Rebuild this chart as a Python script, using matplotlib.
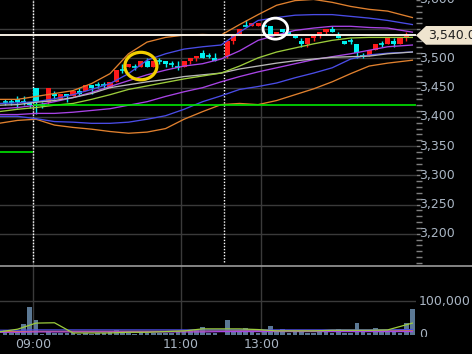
import numpy as np
import matplotlib
matplotlib.use("Agg")
import matplotlib.pyplot as plt
from matplotlib.patches import Ellipse, Polygon
from matplotlib.lines import Line2D
from matplotlib import transforms

nan = np.nan
# ---------------- data ----------------
slots = list(range(-5, 62))   # 5-min slots, 0 = 09:00
opens = [3425, 3425, 3430, 3425, 3425,
         3450, 3420, 3425, 3440, 3430, 3440, 3435, 3445, 3445, 3455,
         3455, 3455, 3450, 3460, 3480, 3485, 3485, 3485, 3495, 3485,
         3495, 3495, 3490, 3485, 3485, 3495, 3500, 3510, 3505, 3500,
         nan, 3505, 3530, 3540, 3555, 3555, 3555, 3555, 3555, 3540,
         3550, 3545, 3540, 3530, 3525, 3535, 3540, 3545, 3550, 3540,
         3530, 3530, 3525, 3505, 3505, 3515, 3525, 3525, 3530, 3525,
         3535, 3540]
highs = [3430, 3430, 3435, 3435, 3425,
         3450, 3425, 3450, 3445, 3440, 3440, 3445, 3450, 3455, 3455,
         3460, 3460, 3460, 3480, 3490, 3490, 3490, 3495, 3500, 3495,
         3500, 3495, 3495, 3495, 3495, 3500, 3505, 3515, 3510, 3510,
         nan, 3530, 3540, 3550, 3565, 3560, 3560, 3560, 3555, 3545,
         3550, 3545, 3540, 3535, 3535, 3540, 3545, 3550, 3555, 3545,
         3530, 3535, 3525, 3510, 3515, 3525, 3530, 3535, 3535, 3535,
         3545, 3540]
lows = [3420, 3420, 3415, 3420, 3415,
        3405, 3415, 3420, 3430, 3430, 3425, 3435, 3435, 3445, 3440,
        3450, 3450, 3450, 3460, 3475, 3485, 3480, 3485, 3485, 3485,
        3490, 3485, 3485, 3480, 3485, 3490, 3495, 3500, 3500, 3495,
        nan, 3500, 3525, 3540, 3555, 3555, 3555, 3555, 3540, 3540,
        3540, 3540, 3535, 3520, 3520, 3530, 3535, 3540, 3545, 3535,
        3525, 3525, 3500, 3500, 3505, 3515, 3520, 3525, 3520, 3525,
        3530, 3540]
closes = [3425, 3425, 3425, 3425, 3420,
          3425, 3420, 3450, 3435, 3440, 3435, 3445, 3440, 3455, 3450,
          3455, 3455, 3460, 3480, 3480, 3490, 3485, 3495, 3485, 3495,
          3495, 3490, 3490, 3485, 3495, 3500, 3505, 3500, 3505, 3495,
          nan, 3530, 3540, 3550, 3555, 3560, 3560, 3555, 3540, 3545,
          3545, 3540, 3535, 3525, 3535, 3540, 3545, 3550, 3545, 3535,
          3525, 3530, 3510, 3505, 3515, 3525, 3525, 3535, 3525, 3535,
          3540, 3540]
volumes_k = [15, 6, 8, 33, 82,
             45, 3, 9, 6, 5, 5, 6, 4, 5, 4,
             5, 6, 8, 15, 6, 5, 4, 8, 6, 5,
             7, 6, 5, 8, 12, 12, 15, 24, 6, 7,
             0, 45, 10, 8, 21, 8, 6, 10, 27, 8,
             18, 6, 8, 15, 5, 6, 9, 8, 6, 18,
             5, 6, 36, 8, 6, 22, 8, 10, 12, 6,
             36, 76]

# indicator lines read at these slot positions
band_x = [-6, -3, 0, 3, 6, 9, 12, 15, 18, 21, 24, 27, 30, 33, 36, 39, 42, 45, 48, 51, 54, 57, 61]
upper3 = [3430, 3430, 3435, 3440, 3445, 3457, 3474, 3508, 3528, 3536, 3540, 3541, 3540, 3558, 3575, 3591, 3599, 3601, 3596, 3589, 3584, 3581, 3570]
lower3 = [3389, 3394, 3396, 3386, 3382, 3379, 3375, 3372, 3374, 3380, 3396, 3409, 3421, 3423, 3421, 3428, 3438, 3448, 3460, 3474, 3487, 3492, 3497]
upper2 = [3423, 3424, 3426, 3431, 3438, 3447, 3457, 3474, 3497, 3508, 3516, 3520, 3523, 3545, 3565, 3570, 3574, 3575, 3575, 3572, 3569, 3565, 3558]
lower2 = [3401, 3401, 3397, 3392, 3391, 3389, 3389, 3391, 3396, 3402, 3413, 3426, 3436, 3447, 3452, 3458, 3467, 3475, 3484, 3499, 3506, 3509, 3511]
upper1 = [3414, 3416, 3420, 3426, 3433, 3442, 3452, 3462, 3472, 3480, 3487, 3491, 3499, 3513, 3531, 3540, 3548, 3552, 3555, 3555, 3553, 3552, 3545]
lower1 = [3404, 3404, 3406, 3406, 3408, 3411, 3414, 3420, 3426, 3435, 3443, 3450, 3460, 3469, 3477, 3484, 3491, 3498, 3503, 3508, 3514, 3520, 3523]
ma_green = [3409, 3413, 3416, 3420, 3423, 3430, 3438, 3447, 3453, 3459, 3465, 3470, 3475, 3487, 3501, 3511, 3518, 3525, 3531, 3535, 3536, 3536, 3536]
ma_gray = [3420, 3421, 3425, 3428, 3433, 3440, 3450, 3455, 3460, 3464, 3469, 3472, 3475, 3482, 3487, 3492, 3496, 3499, 3502, 3503, 3504, 3508, 3511]

vol_ma_green = [9, 17, 35, 36, 6, 6, 6, 8, 8, 10, 12, 18, 18, 18, 16, 12, 12, 12, 14, 14, 14, 15, 35]
vol_ma_orange = [10, 10, 11, 11, 11, 11, 11, 11, 11, 11, 12, 12, 12, 13, 13, 13, 13, 13, 13, 13, 13, 13, 14]
vol_ma_blue = [14, 14, 15, 15, 15, 15, 15, 15, 15, 15, 15, 15, 15, 15, 15, 15, 15, 15, 15, 15, 15, 15, 16]
vol_ma_purple = [8, 8, 9, 9, 9, 9, 9, 9, 9, 9, 9, 9, 10, 10, 10, 10, 10, 10, 10, 10, 10, 10, 10]

prev_close = 3420
prev_prev_close = 3340
last_price = 3540
price_ticks = list(range(3200, 3601, 50))
time_labels = ["09:00", "11:00", "13:00"]
time_label_slots = [0, 24, 37]
session_starts = [0, 31]

# ---------------- figure ----------------
W, H = 472, 354
fig = plt.figure(figsize=(W / 100, H / 100), dpi=100, facecolor="black")
ax = fig.add_axes([0, (H - 266) / H, 416 / W, 266 / H])
axv = fig.add_axes([0, (H - 335) / H, 416 / W, 69 / H])
for a in (ax, axv):
    a.set_facecolor("black")
    for s in a.spines.values():
        s.set_visible(False)
    a.set_xlim(-5.83, 61.59)
    a.tick_params(axis="x", bottom=False, labelbottom=False)

ax.set_ylim(3144.9, 3595.8)
axv.set_ylim(0, 203000)

grid_c = "#3a3a3a"
lab_c = "#aab6c4"
ax.hlines(price_ticks[:-1], -10, 70, colors=grid_c, lw=1, zorder=0.5)
for t in time_label_slots:
    ax.axvline(t - 0.5, color=grid_c, lw=1, zorder=0.5)
    axv.axvline(t - 0.5, color=grid_c, lw=1, zorder=0.5)
axv.axhline(100000, color=grid_c, lw=1, zorder=0.5)

# session dotted lines
for s in session_starts:
    ax.axvline(s - 0.5, ymin=4 / 266, ymax=1, color="white", lw=1,
               linestyle=(0, (1, 1.2)), zorder=1)

# candles
up_c, dn_c = "#ff1a1a", "#00f0f0"
for x, o, h, l, c in zip(slots, opens, highs, lows, closes):
    if np.isnan(o):
        continue
    col = up_c if c > o else dn_c
    ax.vlines(x, l, h, colors=col, lw=1, zorder=2)
    if c == o:
        ax.hlines(c, x - 0.42, x + 0.42, colors=col, lw=1.2, zorder=2)
    else:
        ax.bar(x, abs(c - o), bottom=min(o, c), width=0.82, color=col,
               linewidth=0, zorder=2)

# indicator lines
lw = 0.95
ax.plot(band_x, upper3, color="#e0802e", lw=lw, zorder=3)
ax.plot(band_x, lower3, color="#e0802e", lw=lw, zorder=3)
ax.plot(band_x, upper2, color="#4a4ce6", lw=lw, zorder=3)
ax.plot(band_x, lower2, color="#4a4ce6", lw=lw, zorder=3)
ax.plot(band_x, upper1, color="#a844e6", lw=lw, zorder=3)
ax.plot(band_x, lower1, color="#a844e6", lw=lw, zorder=3)
ax.plot(band_x, ma_gray, color="#b8b8b8", lw=lw, zorder=3)
ax.plot(band_x, ma_green, color="#9ccc3c", lw=lw, zorder=3)

# reference lines
ax.hlines(prev_close, -0.5, 70, colors="#00e600", lw=1.2, zorder=3)
ax.hlines(prev_prev_close, -10, -0.5, colors="#00e600", lw=1.2, zorder=3)
ax.axhline(last_price, color="#f4efe4", lw=1.4, zorder=4)

# hand-drawn style marks
ax.add_patch(Ellipse((17.0, 3487), 5.2, 47, fill=False, edgecolor="#f2cf00",
                     lw=2.3, zorder=5))
ax.add_patch(Ellipse((38.8, 3551), 4.0, 36, fill=False, edgecolor="white",
                     lw=2.0, zorder=5))

# right axis ticks
ax.yaxis.tick_right()
ax.set_yticks(price_ticks)
ax.set_yticks(list(range(3150, 3600, 10)), minor=True)
ax.tick_params(axis="y", which="major", length=3, width=1, color="#808080",
               labelright=False, labelleft=False, direction="out")
ax.tick_params(axis="y", which="minor", length=4.5, width=1, color="#808080",
               direction="out")
axv.set_yticks([])

ytr = transforms.blended_transform_factory(ax.transAxes, ax.transData)
for p in price_ticks:
    if p == 3550:
        continue
    ax.text(1 + 3 / 416, p, f"{p:,}", transform=ytr, ha="left", va="center",
            fontsize=9, color=lab_c, clip_on=False)

# price tag
tag = Polygon([(1.0, last_price - 0.5), (1 + 10 / 416, last_price + 15.5),
               (1 + 70 / 416, last_price + 15.5), (1 + 70 / 416, last_price - 16.5),
               (1 + 10 / 416, last_price - 16.5)],
              closed=True, transform=ytr, facecolor="#efe4cf", edgecolor="none",
              clip_on=False, zorder=10)
ax.add_patch(tag)
ax.text(1 + 12 / 416, last_price - 1, f"{last_price:,}.0", transform=ytr,
        ha="left", va="center", fontsize=9, color="#202020", clip_on=False,
        zorder=11)

# volume panel
vols = [v * 1000 for v in volumes_k]
axv.bar(slots, vols, width=0.75, color="#5b7894", linewidth=0, zorder=2)
vlw = 0.9
axv.plot(band_x, [v * 1000 for v in vol_ma_orange], color="#e0802e", lw=vlw, zorder=3)
axv.plot(band_x, [v * 1000 for v in vol_ma_blue], color="#4a4ce6", lw=vlw, zorder=3)
axv.plot(band_x, [v * 1000 for v in vol_ma_purple], color="#a844e6", lw=vlw, zorder=3)
axv.plot(band_x, [v * 1000 for v in vol_ma_green], color="#9ccc3c", lw=vlw, zorder=3)

vtr = transforms.blended_transform_factory(axv.transAxes, axv.transData)
axv.text(1 + 3 / 416, 100000, "100,000", transform=vtr, ha="left", va="center",
         fontsize=9, color=lab_c, clip_on=False)
zero = axv.text(1 + 3 / 416, 0, "0", transform=vtr, ha="left", va="center",
                fontsize=9, color=lab_c)
zero.set_clip_on(True)
zero.set_clip_box(transforms.TransformedBbox(
    transforms.Bbox([[0.9, -0.03], [1.3, 1.0]]), axv.transAxes))

# time labels
xtr = transforms.blended_transform_factory(axv.transData, fig.transFigure)
for lab, s in zip(time_labels, time_label_slots):
    axv.text(s - 0.5, (H - 344.5) / H, lab, transform=xtr, ha="center",
             va="center", fontsize=9, color=lab_c, clip_on=False)

# panel separator
fig.add_artist(Line2D([0, 1], [(H - 266) / H] * 2, transform=fig.transFigure,
                      color="#9a9a9a", lw=1.2))

fig.savefig("out.png", dpi=100, facecolor="black")
